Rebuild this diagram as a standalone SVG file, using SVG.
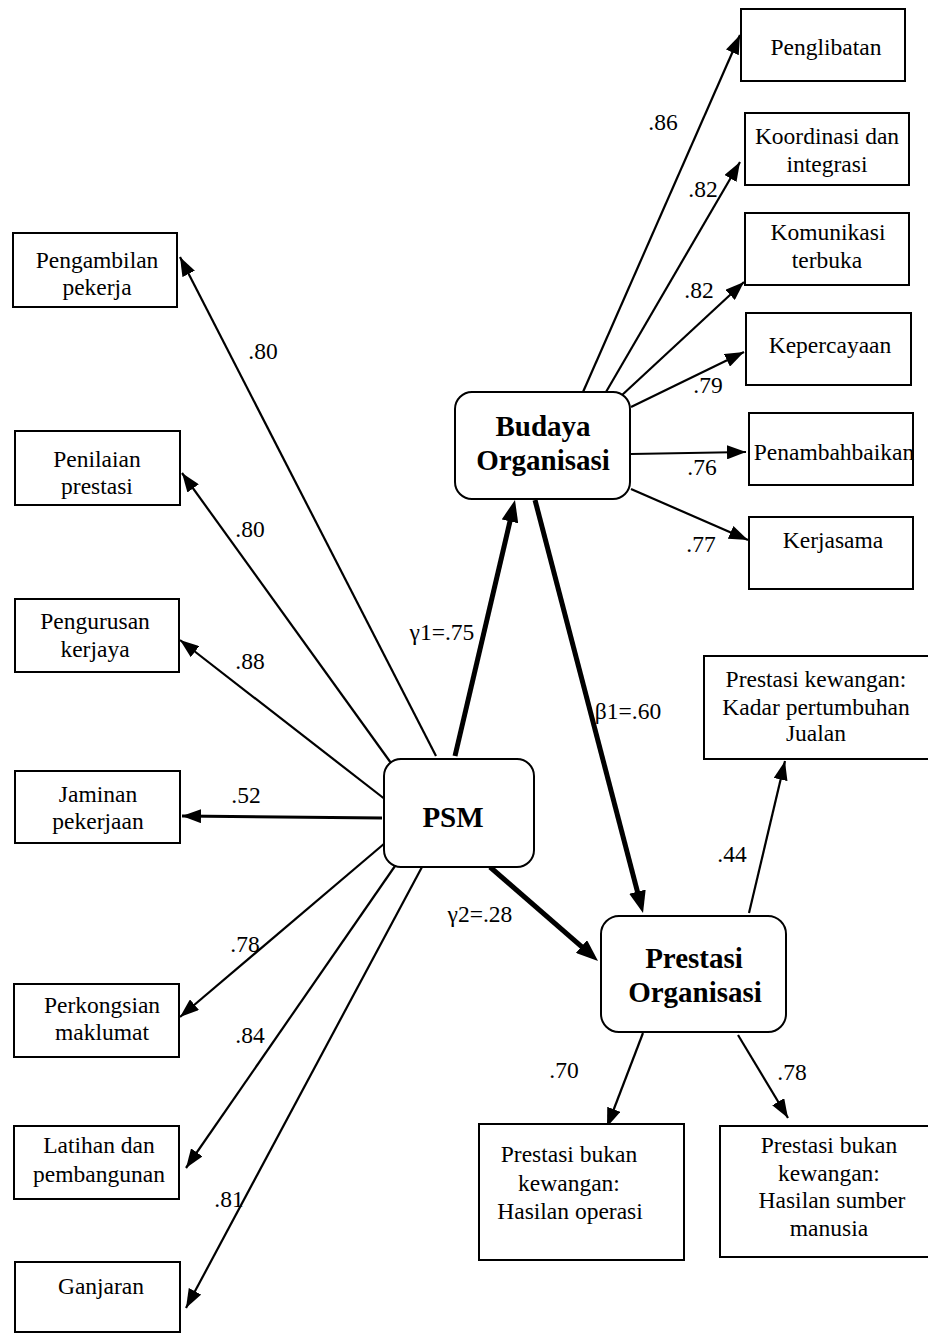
<svg xmlns="http://www.w3.org/2000/svg" width="928" height="1334" viewBox="0 0 928 1334" font-family="'Liberation Serif', 'Times New Roman', serif">
<defs>
<style>
.box{fill:#fff;stroke:#000;stroke-width:2}
.lat{fill:#fff;stroke:#000;stroke-width:2}
text{font-family:'Liberation Serif','Times New Roman',serif;font-size:23.5px;fill:#000}
.c{text-anchor:middle}
.b{font-weight:bold;font-size:29px;text-anchor:middle}
.thin{stroke:#000;stroke-width:2.2;fill:none;marker-end:url(#ah)}
.thick{stroke:#000;stroke-width:5;fill:none;marker-end:url(#ahb)}
</style>
<marker id="ah" markerWidth="19" markerHeight="14" refX="19" refY="7" orient="auto" markerUnits="userSpaceOnUse"><path d="M0,0 L19,7 L0,14 z" fill="#000"/></marker>
<marker id="ahb" markerWidth="22" markerHeight="17" refX="12" refY="8.5" orient="auto" markerUnits="userSpaceOnUse"><path d="M0,0 L22,8.5 L0,17 z" fill="#000"/></marker>
</defs>
<rect width="928" height="1334" fill="#fff"/>

<g id="connectors">
<line class="thin" x1="436" y1="756" x2="180" y2="257"/>
<line class="thin" x1="391" y1="763" x2="182" y2="473"/>
<line class="thin" x1="386" y1="800" x2="180" y2="640"/>
<line class="thin" x1="382" y1="818" x2="182" y2="816" style="stroke-width:3"/>
<line class="thin" x1="385" y1="843" x2="180" y2="1017"/>
<line class="thin" x1="395" y1="866" x2="186" y2="1168"/>
<line class="thin" x1="422" y1="867" x2="186" y2="1308"/>
<line class="thin" x1="583" y1="392" x2="740" y2="35"/>
<line class="thin" x1="606" y1="392" x2="740" y2="162"/>
<line class="thin" x1="621" y1="396" x2="744" y2="282"/>
<line class="thin" x1="631" y1="407" x2="744" y2="352"/>
<line class="thin" x1="631" y1="454" x2="746" y2="452"/>
<line class="thin" x1="631" y1="489" x2="748" y2="540"/>
<line class="thin" x1="749" y1="913" x2="785" y2="761"/>
<line class="thin" x1="643" y1="1033" x2="607" y2="1127"/>
<line class="thin" x1="738" y1="1035" x2="788" y2="1118"/>
<line class="thick" x1="455" y1="756" x2="512.7" y2="509.7"/>
<line class="thick" x1="535" y1="500" x2="640.5" y2="903.3"/>
<line class="thick" x1="490" y1="867" x2="590.5" y2="954.4"/>
</g>

<g id="labels">
<text class="c" x="263" y="359">.80</text>
<text class="c" x="250" y="537">.80</text>
<text class="c" x="250" y="669">.88</text>
<text class="c" x="246" y="803">.52</text>
<text class="c" x="245" y="952">.78</text>
<text class="c" x="250" y="1043">.84</text>
<text class="c" x="229" y="1207">.81</text>
<text class="c" x="442" y="640">γ1=.75</text>
<text class="c" x="480" y="922">γ2=.28</text>
<text class="c" x="628" y="719">β1=.60</text>
<text class="c" x="663" y="130">.86</text>
<text class="c" x="703" y="197">.82</text>
<text class="c" x="699" y="298">.82</text>
<text class="c" x="708" y="393">.79</text>
<text class="c" x="702" y="475">.76</text>
<text class="c" x="701" y="552">.77</text>
<text class="c" x="732" y="862">.44</text>
<text class="c" x="564" y="1078">.70</text>
<text class="c" x="792" y="1080">.78</text>
</g>

<g id="psm">
<rect class="box" x="384" y="759" width="150" height="108" rx="17"/>
<text class="b" x="453" y="827">PSM</text>
</g>
<g id="budaya">
<rect class="box" x="455" y="392" width="175" height="107" rx="17"/>
<text class="b" x="543" y="436">Budaya</text>
<text class="b" x="543" y="470">Organisasi</text>
</g>
<g id="prestasi">
<rect class="box" x="601" y="916" width="185" height="116" rx="18"/>
<text class="b" x="694" y="968">Prestasi</text>
<text class="b" x="695" y="1002">Organisasi</text>
</g>

<g id="pengambilan">
<rect class="lat" x="13" y="233" width="164" height="74"/>
<text class="c" x="97" y="268">Pengambilan</text>
<text class="c" x="97" y="295">pekerja</text>
</g>
<g id="penilaian">
<rect class="lat" x="15" y="431" width="165" height="74"/>
<text class="c" x="97" y="467">Penilaian</text>
<text class="c" x="97" y="494">prestasi</text>
</g>
<g id="pengurusan">
<rect class="lat" x="15" y="599" width="164" height="73"/>
<text class="c" x="95" y="629">Pengurusan</text>
<text class="c" x="95" y="657">kerjaya</text>
</g>
<g id="jaminan">
<rect class="lat" x="15" y="771" width="165" height="72"/>
<text class="c" x="98" y="802">Jaminan</text>
<text class="c" x="98" y="829">pekerjaan</text>
</g>
<g id="perkongsian">
<rect class="lat" x="14" y="984" width="165" height="73"/>
<text class="c" x="102" y="1013">Perkongsian</text>
<text class="c" x="102" y="1040">maklumat</text>
</g>
<g id="latihan">
<rect class="lat" x="14" y="1126" width="165" height="73"/>
<text class="c" x="99" y="1153">Latihan dan</text>
<text class="c" x="99" y="1182">pembangunan</text>
</g>
<g id="ganjaran">
<rect class="lat" x="15" y="1262" width="165" height="70"/>
<text class="c" x="101" y="1294">Ganjaran</text>
</g>

<g id="penglibatan">
<rect class="lat" x="741" y="9" width="164" height="72"/>
<text class="c" x="826" y="55">Penglibatan</text>
</g>
<g id="koordinasi">
<rect class="lat" x="745" y="113" width="164" height="72"/>
<text class="c" x="827" y="144">Koordinasi dan</text>
<text class="c" x="827" y="172">integrasi</text>
</g>
<g id="komunikasi">
<rect class="lat" x="745" y="213" width="164" height="72"/>
<text class="c" x="828" y="240">Komunikasi</text>
<text class="c" x="827" y="268">terbuka</text>
</g>
<g id="kepercayaan">
<rect class="lat" x="746" y="313" width="165" height="72"/>
<text class="c" x="830" y="353">Kepercayaan</text>
</g>
<g id="penambahbaikan">
<rect class="lat" x="749" y="413" width="164" height="72"/>
<text class="c" x="834" y="460">Penambahbaikan</text>
</g>
<g id="kerjasama">
<rect class="lat" x="749" y="517" width="164" height="72"/>
<text class="c" x="833" y="548">Kerjasama</text>
</g>

<g id="kewangan">
<rect class="lat" x="704" y="656" width="240" height="103"/>
<text class="c" x="816" y="687">Prestasi kewangan:</text>
<text class="c" x="816" y="715">Kadar pertumbuhan</text>
<text class="c" x="816" y="741">Jualan</text>
</g>
<g id="operasi">
<rect class="lat" x="479" y="1124" width="205" height="136"/>
<text class="c" x="569" y="1162">Prestasi bukan</text>
<text class="c" x="569" y="1191">kewangan:</text>
<text class="c" x="570" y="1219">Hasilan operasi</text>
</g>
<g id="sumber">
<rect class="lat" x="720" y="1126" width="224" height="131"/>
<text class="c" x="829" y="1153">Prestasi bukan</text>
<text class="c" x="829" y="1181">kewangan:</text>
<text class="c" x="832" y="1208">Hasilan sumber</text>
<text class="c" x="829" y="1236">manusia</text>
</g>
</svg>
